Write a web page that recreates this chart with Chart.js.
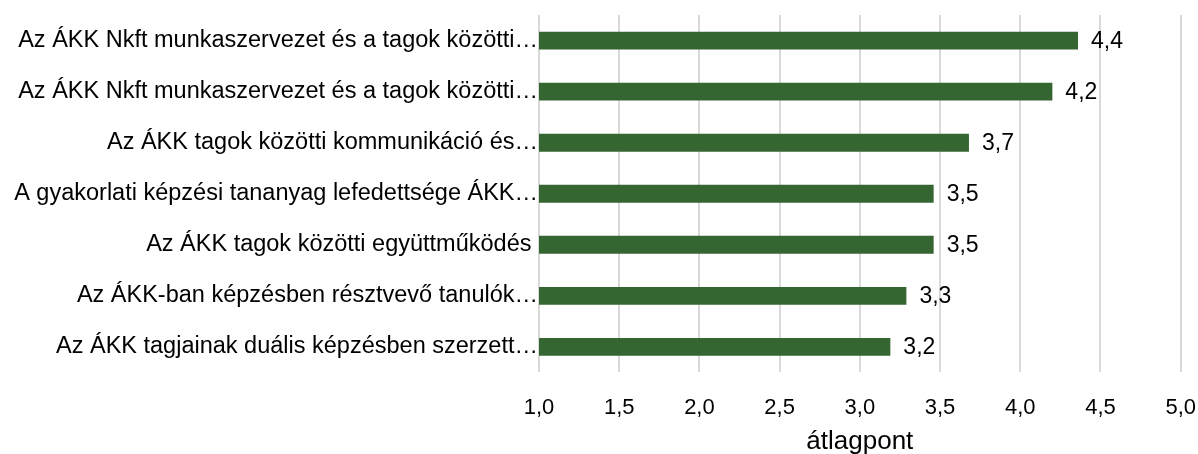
<!DOCTYPE html>
<html>
<head>
<meta charset="utf-8">
<script src="https://cdn.jsdelivr.net/npm/chart.js@4"></script>
<style>
  body { margin: 0; background: #fff; }
  #wrap { width: 1198px; height: 454px; }
</style>
</head>
<body>
<div id="wrap"><canvas id="myChart"></canvas></div>
<script>
// categories (as shown, truncated in the original)
const categories = [
    'Az ÁKK Nkft munkaszervezet és a tagok közötti…',
    'Az ÁKK Nkft munkaszervezet és a tagok közötti…',
    'Az ÁKK tagok közötti kommunikáció és…',
    'A gyakorlati képzési tananyag lefedettsége ÁKK…',
    'Az ÁKK tagok közötti együttműködés ',
    'Az ÁKK-ban képzésben résztvevő tanulók…',
    'Az ÁKK tagjainak duális képzésben szerzett…'
];

// averages
const values = [4.36, 4.2, 3.68, 3.46, 3.46, 3.29, 3.19];

const xTitle = 'átlagpont';

const fmt = (v) => v.toFixed(1).replace('.', ',');
const FONT = '"Liberation Sans", Arial, sans-serif';

// value labels to the right of each bar
const barLabels = {
    id: 'barLabels',
    afterDatasetsDraw(chart) {
        const ctx = chart.ctx;
        const meta = chart.getDatasetMeta(0);
        ctx.save();
        ctx.font = '23px ' + FONT;
        ctx.fillStyle = '#000';
        ctx.textBaseline = 'middle';
        ctx.textAlign = 'left';
        meta.data.forEach((bar, i) => {
            ctx.fillText(fmt(values[i]), bar.x + 13, bar.y + 1);
        });
        ctx.restore();
    }
};

const config = {
    type: 'bar',
    data: {
        labels: categories,
        datasets: [{
            data: values,
            backgroundColor: '#356530',
            borderWidth: 0,
            barPercentage: 0.7,
            categoryPercentage: 0.5
        }]
    },
    options: {
        indexAxis: 'y',
        responsive: true,
        maintainAspectRatio: false,
        animation: false,
        layout: { padding: { top: 15, right: 0, left: 0, bottom: 0 } },
        plugins: {
            legend: { display: false },
            tooltip: { enabled: false }
        },
        scales: {
            x: {
                min: 1,
                max: 5,
                ticks: {
                    stepSize: 0.5,
                    padding: 2,
                    color: '#000',
                    font: { size: 22, family: FONT },
                    callback: (v) => fmt(v)
                },
                grid: { color: '#d9d9d9', lineWidth: 2, drawTicks: true, tickLength: 20, tickColor: 'rgba(0,0,0,0)' },
                border: { display: false },
                title: {
                    display: true,
                    text: xTitle,
                    color: '#000',
                    font: { size: 26, family: FONT },
                    padding: { top: 3, bottom: -3 }
                }
            },
            y: {
                ticks: {
                    padding: 1,
                    color: '#000',
                    font: { size: 23.5, family: FONT }
                },
                grid: { display: false, drawTicks: false },
                border: { display: false },
                afterFit: (scale) => { scale.width = 539; }
            }
        }
    },
    plugins: [barLabels]
};

new Chart(document.getElementById('myChart'), config);
</script>
</body>
</html>
